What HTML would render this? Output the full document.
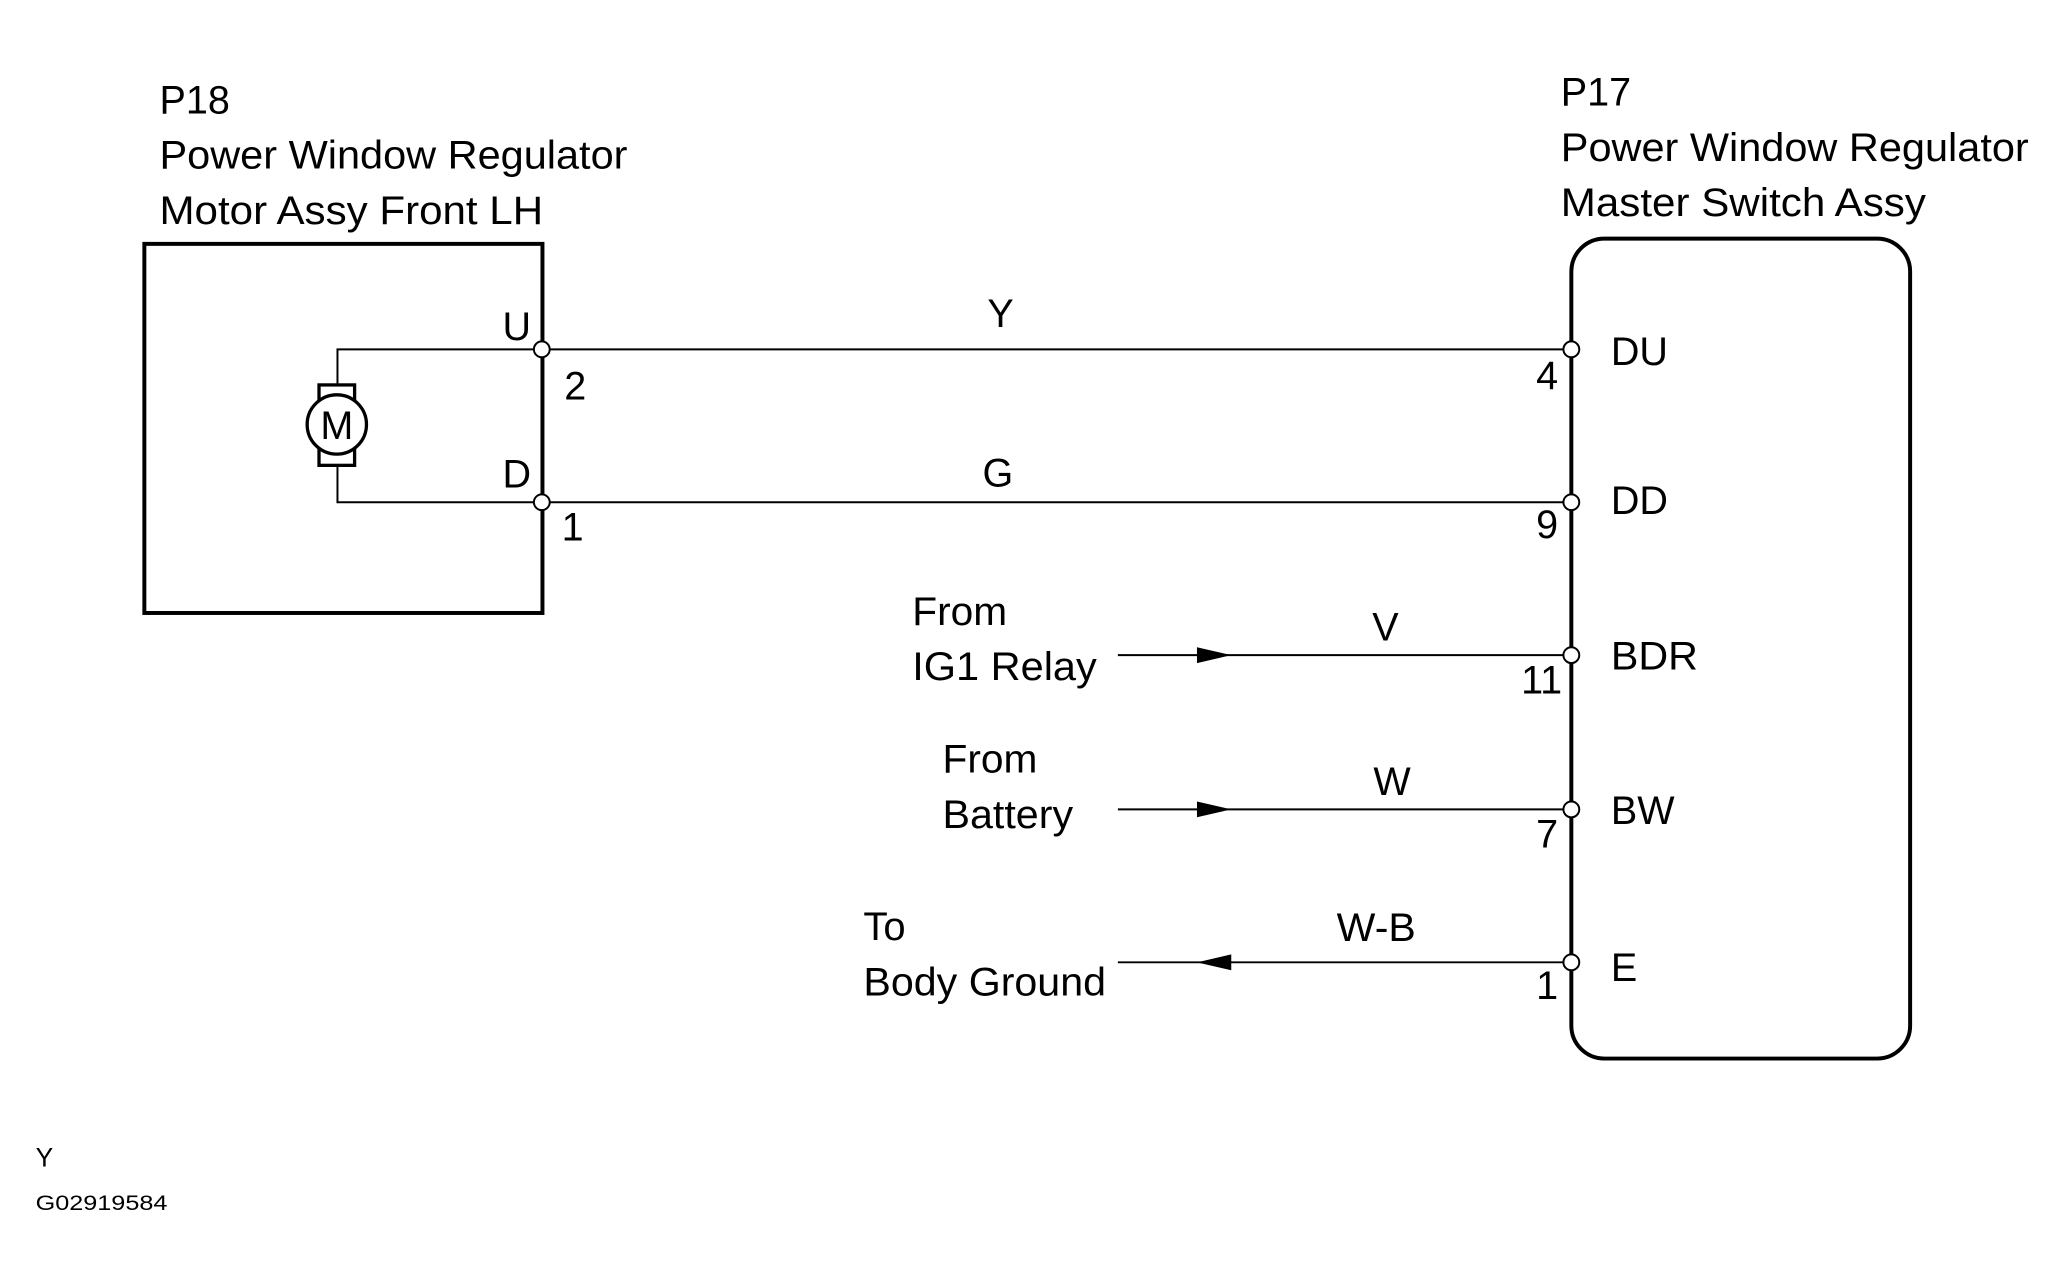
<!DOCTYPE html>
<html><head><style>html,body{margin:0;padding:0;background:#fff;}svg{display:block}</style></head>
<body>
<svg width="2067" height="1287" viewBox="0 0 1568 976.3" xmlns="http://www.w3.org/2000/svg" font-family="'Liberation Sans', Arial, sans-serif" fill="#000">
<g font-size="30">
<text x="121" y="86">P18</text>
<text x="121" y="128" textLength="355" lengthAdjust="spacingAndGlyphs">Power Window Regulator</text>
<text x="121" y="170" textLength="291" lengthAdjust="spacingAndGlyphs">Motor Assy Front LH</text>
<text x="1184" y="80">P17</text>
<text x="1184" y="122" textLength="355" lengthAdjust="spacingAndGlyphs">Power Window Regulator</text>
<text x="1184" y="164" textLength="277" lengthAdjust="spacingAndGlyphs">Master Switch Assy</text>
</g>
<rect x="109.5" y="185" width="302" height="280" fill="none" stroke="#000" stroke-width="3"/>
<rect x="1192" y="181" width="257" height="622" rx="25" fill="none" stroke="#000" stroke-width="3"/>
<g stroke="#000" stroke-width="1.5" fill="none">
<polyline points="256,293 256,265 411,265 1192,265"/>
<polyline points="256,353 256,381 411,381 1192,381"/>
<line x1="848" y1="497" x2="1192" y2="497"/>
<line x1="848" y1="614" x2="1192" y2="614"/>
<line x1="848" y1="730" x2="1192" y2="730"/>
</g>
<rect x="242" y="292" width="27" height="61" fill="#fff" stroke="#000" stroke-width="2.5"/>
<circle cx="255.5" cy="322" r="22.5" fill="#fff" stroke="#000" stroke-width="2.5"/>
<text x="255.5" y="333" font-size="30" text-anchor="middle">M</text>
<polygon points="908,491 908,503 934,497"/>
<polygon points="908,608 908,620 934,614"/>
<polygon points="908,730 934,724 934,736"/>
<g fill="#fff" stroke="#000" stroke-width="1.5">
<circle cx="411" cy="265" r="6"/><circle cx="411" cy="381" r="6"/>
<circle cx="1192" cy="265" r="6"/><circle cx="1192" cy="381" r="6"/>
<circle cx="1192" cy="497" r="6"/><circle cx="1192" cy="614" r="6"/>
<circle cx="1192" cy="730" r="6"/>
</g>
<g font-size="30">
<text x="392" y="258" text-anchor="middle">U</text>
<text x="392" y="370" text-anchor="middle">D</text>
<text x="428" y="303">2</text>
<text x="426" y="410">1</text>
<text x="759" y="248" text-anchor="middle">Y</text>
<text x="757" y="369" text-anchor="middle">G</text>
<text x="1051" y="486" text-anchor="middle">V</text>
<text x="1056" y="603" text-anchor="middle">W</text>
<text x="1044" y="714" text-anchor="middle" textLength="60" lengthAdjust="spacingAndGlyphs">W-B</text>
<text x="1182" y="295" text-anchor="end">4</text>
<text x="1182" y="408" text-anchor="end">9</text>
<text x="1185" y="526" text-anchor="end">11</text>
<text x="1182" y="643" text-anchor="end">7</text>
<text x="1182" y="758" text-anchor="end">1</text>
<text x="1222" y="277">DU</text>
<text x="1222" y="390">DD</text>
<text x="1222" y="508" textLength="66" lengthAdjust="spacingAndGlyphs">BDR</text>
<text x="1222" y="625">BW</text>
<text x="1222" y="744">E</text>
<text x="692" y="474" textLength="72" lengthAdjust="spacingAndGlyphs">From</text>
<text x="692" y="516" textLength="140" lengthAdjust="spacingAndGlyphs">IG1 Relay</text>
<text x="715" y="586" textLength="72" lengthAdjust="spacingAndGlyphs">From</text>
<text x="715" y="628" textLength="99" lengthAdjust="spacingAndGlyphs">Battery</text>
<text x="655" y="713" textLength="32" lengthAdjust="spacingAndGlyphs">To</text>
<text x="655" y="755" textLength="184" lengthAdjust="spacingAndGlyphs">Body Ground</text>
</g>
<text x="27" y="885" font-size="20">Y</text>
<text x="27" y="918" font-size="16" textLength="100" lengthAdjust="spacingAndGlyphs">G02919584</text>
</svg>
</body></html>
